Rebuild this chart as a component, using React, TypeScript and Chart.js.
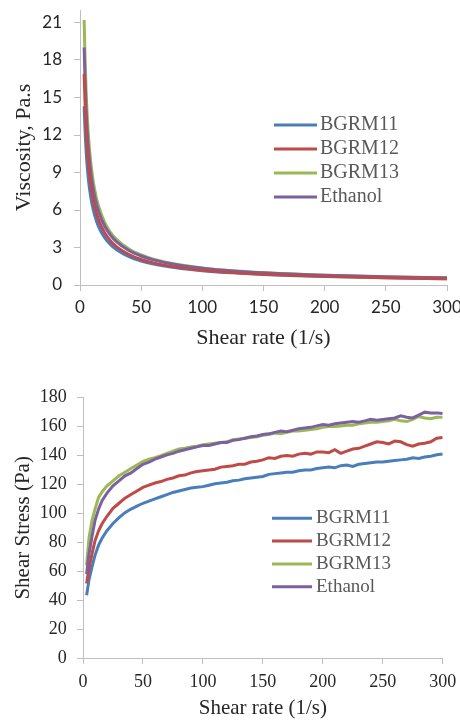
import React, { useEffect, useRef } from 'react';
import { Chart, registerables } from 'chart.js';

Chart.register(...registerables);

// ---------- data ----------
const seriesNames = ['BGRM11', 'BGRM12', 'BGRM13', 'Ethanol'];
const seriesColors = ['#4A7EBB', '#BE4B48', '#98B954', '#7D60A0'];

const rateTicks = [0, 50, 100, 150, 200, 250, 300];
const viscTicks = [0, 3, 6, 9, 12, 15, 18, 21];
const stressTicks = [0, 20, 40, 60, 80, 100, 120, 140, 160, 180];

// Viscosity chart (Pa.s vs 1/s)
const viscRate = [3.4, 4, 5, 6, 7, 8, 10, 12, 15, 20, 25, 30, 40, 50, 60, 80, 100, 125, 150, 200, 250, 300];
const viscBGRM11 = [14.3, 12.66, 10.72, 9.35, 8.33, 7.54, 6.38, 5.57, 4.71, 3.8, 3.22, 2.81, 2.26, 1.91, 1.67, 1.35, 1.14, 0.97, 0.84, 0.68, 0.57, 0.5];
const viscBGRM12 = [16.9, 14.87, 12.48, 10.81, 9.58, 8.63, 7.24, 6.27, 5.26, 4.2, 3.52, 3.05, 2.44, 2.04, 1.77, 1.41, 1.18, 0.99, 0.86, 0.69, 0.58, 0.5];
const viscBGRM13 = [21.2, 18.58, 15.51, 13.37, 11.8, 10.59, 8.84, 7.62, 6.36, 5.04, 4.2, 3.63, 2.87, 2.4, 2.07, 1.64, 1.37, 1.14, 0.98, 0.78, 0.65, 0.56];
const viscEthanol = [19.0, 16.73, 14.05, 12.18, 10.79, 9.72, 8.16, 7.08, 5.94, 4.74, 3.98, 3.45, 2.76, 2.32, 2.01, 1.6, 1.35, 1.13, 0.98, 0.78, 0.66, 0.57];

// Shear stress chart (Pa vs 1/s)
const stressRate = [3, 5, 7.5, 10, 13, 16, 20, 25, 30, 35, 40, 45, 50, 55, 60, 65, 70, 75, 80, 85, 90, 95, 100, 105, 110, 115, 120, 125, 130, 135, 140, 145, 150, 155, 160, 165, 170, 175, 180, 185, 190, 195, 200, 205, 210, 215, 220, 225, 230, 235, 240, 245, 250, 255, 260, 265, 270, 275, 280, 285, 290, 295, 300];
const stressBGRM11 = [43.4, 54, 63, 71, 78, 83, 88, 93, 97, 100.5,
  103, 105, 107, 108.5, 110, 111.5, 113, 114.5, 115.5, 116.5,
  117.5, 118, 118.5, 119.5, 120.5, 121, 121.5, 122.5, 123, 124,
  124.5, 125, 125.5, 127, 127.5, 128, 128.5, 128.5, 129.5, 130,
  130, 131, 131.5, 132, 131.5, 133, 133.5, 132.5, 134, 134.5,
  135, 135.5, 135.5, 136, 136.5, 137, 137.5, 138.5, 138, 139,
  139.5, 140.5, 141];
const stressBGRM12 = [51.5, 62, 72, 81, 88, 93, 98, 103.5, 107, 110.5,
  113, 115.5, 118, 119.5, 121, 122, 123.5, 124.5, 126, 126.5,
  128, 129, 129.5, 130, 130.5, 132, 132.5, 133, 134, 134,
  135.5, 136, 137, 138.5, 138, 139.5, 140, 139.5, 141, 141.5,
  141, 142.5, 142.5, 142, 144, 141.5, 143, 144.5, 145, 146.5,
  148, 149.5, 149, 148, 150, 149.5, 147.5, 146.5, 148, 148.5,
  149.5, 152, 152.5];
const stressBGRM13 = [64, 83, 95, 103, 111, 115, 119, 122.5, 126, 128.5,
  131, 133.5, 136, 137.5, 138.5, 140, 141.5, 143, 144.5, 145,
  146, 146.5, 147.5, 148, 148.5, 149, 149.5, 151, 151.5, 152,
  152.5, 153, 154, 154.5, 155.5, 155, 156, 157, 157, 157.5,
  158, 158.5, 159.5, 160, 160, 160.5, 161, 161, 162, 162.5,
  163, 163, 163.5, 164, 165, 164, 163.5, 165, 167, 166,
  165.5, 166.5, 166.5];
const stressEthanol = [58, 72, 84, 95, 103, 109, 114, 119, 122.5, 126,
  128, 131, 134, 135.5, 137.5, 139, 140.5, 141.5, 143, 144,
  145, 146, 147, 147, 148, 149, 149, 150.5, 151, 152,
  153, 153.5, 154.5, 155, 156, 157, 156.5, 157.5, 158.5, 159,
  159.5, 160.5, 161.5, 161, 162, 162.5, 163, 163.5, 163, 164,
  165, 164.5, 165, 165.5, 166, 167.5, 166.5, 166, 168, 170,
  169.5, 169.5, 169];

// ---------- helpers ----------
const toPoints = (xs: number[], ys: number[]) => xs.map((x, i) => ({ x, y: ys[i] }));

const insideLegend = {
  id: 'insideLegend',
  afterDraw(chart: any, _args: any, opts: any) {
    const ctx = chart.ctx;
    ctx.save();
    ctx.font = opts.font;
    ctx.textBaseline = 'middle';
    ctx.textAlign = 'left';
    const order = opts.order as number[];
    order.forEach((dsIndex: number, row: number) => {
      const ds = chart.data.datasets[dsIndex];
      const y = opts.y + row * opts.gap;
      ctx.strokeStyle = ds.borderColor;
      ctx.lineWidth = opts.lineWidth;
      ctx.beginPath();
      ctx.moveTo(opts.x, y);
      ctx.lineTo(opts.x + opts.len, y);
      ctx.stroke();
      ctx.fillStyle = opts.color;
      ctx.fillText(ds.label, opts.x + opts.len + opts.textGap, y);
    });
    ctx.restore();
  },
};

const AXIS_COLOR = '#BFBFBF';
const TEXT_COLOR = '#262626';

function makeChart(canvas: HTMLCanvasElement, cfg: any) {
  return new Chart(canvas, cfg);
}

export default function App() {
  const topRef = useRef<HTMLCanvasElement | null>(null);
  const botRef = useRef<HTMLCanvasElement | null>(null);

  useEffect(() => {
    const viscData = [viscBGRM11, viscBGRM12, viscBGRM13, viscEthanol];
    const viscOrder = [3, 0, 2, 1];
    const topChart = makeChart(topRef.current!, {
      type: 'line',
      data: {
        datasets: seriesNames.map((name, i) => ({
          label: name,
          data: toPoints(viscRate, viscData[i]),
          borderColor: seriesColors[i],
          backgroundColor: seriesColors[i],
          borderWidth: 3,
          pointRadius: 0,
          fill: false,
          cubicInterpolationMode: 'monotone',
          order: viscOrder[i],
        })),
      },
      options: {
        animation: false,
        responsive: false,
        events: [],
        layout: { padding: { top: 10, right: 13, left: 0, bottom: 0 } },
        plugins: {
          legend: { display: false },
          tooltip: { enabled: false },
          insideLegend: {
            x: 274, y: 125, gap: 24, len: 43, textGap: 3, lineWidth: 3,
            font: '20px "Liberation Serif"', color: '#595959', order: [0, 1, 2, 3],
          },
        },
        scales: {
          x: {
            type: 'linear', min: 0, max: 300,
            afterBuildTicks: (a: any) => { a.ticks = rateTicks.map((v) => ({ value: v })); },
            afterFit: (s: any) => { s.height = 65; s.paddingLeft = 0; s.paddingRight = 0; },
            ticks: { autoSkip: false, maxRotation: 0, padding: 6, color: TEXT_COLOR, font: { family: 'Lato', size: 17 } },
            grid: { drawOnChartArea: false, drawTicks: true, tickLength: 6, color: AXIS_COLOR },
            border: { display: true, color: AXIS_COLOR, width: 1 },
            title: { display: true, text: 'Shear rate (1/s)', color: TEXT_COLOR, font: { family: 'Liberation Serif', size: 22, lineHeight: 1 }, padding: { top: 0, bottom: 1 } },
          },
          y: {
            type: 'linear', min: 0, max: 22,
            afterBuildTicks: (a: any) => { a.ticks = viscTicks.map((v) => ({ value: v })); },
            afterFit: (s: any) => { s.width = 80; s.paddingTop = 0; s.paddingBottom = 0; },
            ticks: { padding: 12, color: TEXT_COLOR, font: { family: 'Lato', size: 17 } },
            grid: { drawOnChartArea: false, drawTicks: true, tickLength: 6, color: AXIS_COLOR },
            border: { display: true, color: AXIS_COLOR, width: 1 },
            title: { display: true, text: 'Viscosity, Pa.s', color: TEXT_COLOR, font: { family: 'Liberation Serif', size: 22, lineHeight: 1 }, padding: { top: 13.3, bottom: 0 } },
          },
        },
      },
      plugins: [insideLegend],
    });

    const stressData = [stressBGRM11, stressBGRM12, stressBGRM13, stressEthanol];
    const stressOrder = [3, 2, 1, 0];
    const botChart = makeChart(botRef.current!, {
      type: 'line',
      data: {
        datasets: seriesNames.map((name, i) => ({
          label: name,
          data: toPoints(stressRate, stressData[i]),
          borderColor: seriesColors[i],
          backgroundColor: seriesColors[i],
          borderWidth: 3,
          pointRadius: 0,
          fill: false,
          tension: 0,
          order: stressOrder[i],
        })),
      },
      options: {
        animation: false,
        responsive: false,
        events: [],
        layout: { padding: { top: 47.7, right: 17.3, left: 0, bottom: 0 } },
        plugins: {
          legend: { display: false },
          tooltip: { enabled: false },
          insideLegend: {
            x: 272, y: 168.3, gap: 22.8, len: 40, textGap: 4, lineWidth: 3,
            font: '19px "Liberation Serif"', color: '#595959', order: [0, 1, 2, 3],
          },
        },
        scales: {
          x: {
            type: 'linear', min: 0, max: 300,
            afterBuildTicks: (a: any) => { a.ticks = rateTicks.map((v) => ({ value: v })); },
            afterFit: (s: any) => { s.height = 62; s.paddingLeft = 0; s.paddingRight = 0; },
            ticks: { autoSkip: false, maxRotation: 0, padding: 7, color: TEXT_COLOR, font: { family: 'Liberation Serif', size: 18 } },
            grid: { drawOnChartArea: false, drawTicks: true, tickLength: 6, color: AXIS_COLOR },
            border: { display: true, color: AXIS_COLOR, width: 1 },
            title: { display: true, text: 'Shear rate (1/s)', color: TEXT_COLOR, font: { family: 'Liberation Serif', size: 21, lineHeight: 1 }, padding: { top: 0, bottom: 1.1 } },
          },
          y: {
            type: 'linear', min: 0, max: 180,
            afterBuildTicks: (a: any) => { a.ticks = stressTicks.map((v) => ({ value: v })); },
            afterFit: (s: any) => { s.width = 83; s.paddingTop = 0; s.paddingBottom = 0; },
            ticks: { padding: 10.3, color: TEXT_COLOR, font: { family: 'Liberation Serif', size: 18 } },
            grid: { drawOnChartArea: false, drawTicks: true, tickLength: 6, color: AXIS_COLOR },
            border: { display: true, color: AXIS_COLOR, width: 1 },
            title: { display: true, text: 'Shear Stress (Pa)', color: TEXT_COLOR, font: { family: 'Liberation Serif', size: 21, lineHeight: 1 }, padding: { top: 13.1, bottom: 0 } },
          },
        },
      },
      plugins: [insideLegend],
    });

    return () => {
      topChart.destroy();
      botChart.destroy();
    };
  }, []);

  return (
    <div style={{ position: 'absolute', left: 0, top: 0, width: 460, height: 720, background: '#ffffff', overflow: 'hidden' }}>
      <canvas ref={topRef} width={460} height={350} style={{ position: 'absolute', left: 0, top: 0, width: 460, height: 350 }} />
      <canvas ref={botRef} width={460} height={370} style={{ position: 'absolute', left: 0, top: 350, width: 460, height: 370 }} />
    </div>
  );
}
